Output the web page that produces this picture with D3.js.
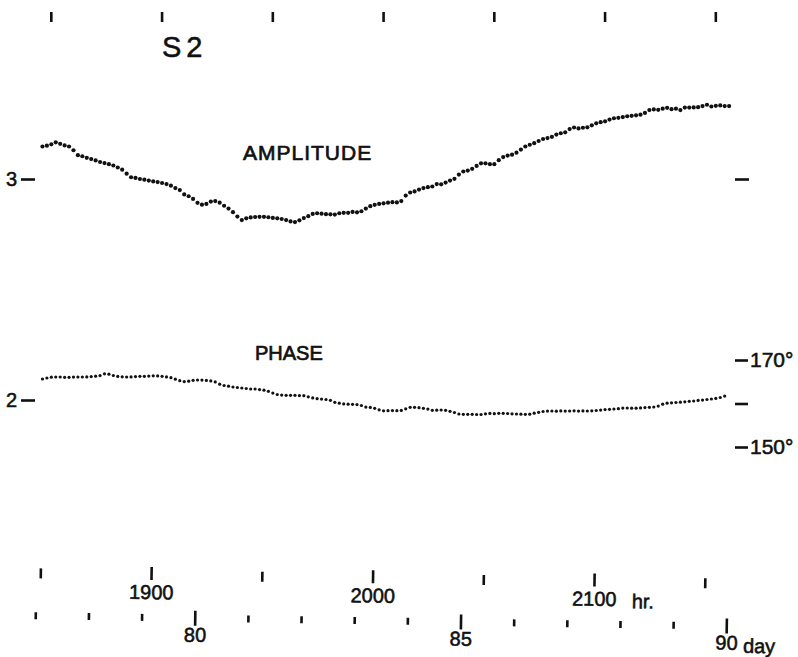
<html>
<head>
<meta charset="utf-8">
<title>S2</title>
<style>
  body { margin: 0; background: #fff; }
  text { font-family: "Liberation Sans", Arial, sans-serif; fill: #111; stroke: #111; stroke-width: 0.55px; }
  .tick line { stroke: #111; stroke-width: 2.6; }
  .domain { display: none; }
</style>
</head>
<body>
<script src="https://d3js.org/d3.v7.min.js"></script>
<script>

var width = 798, height = 657;

// readings every 2 hr, starting at hour 1851
var START_HR = 1851, STEP_HR = 2;

var amplitude = [
  3.147,3.151,3.157,3.166,3.159,3.152,3.147,3.130,3.108,3.103,
  3.096,3.090,3.084,3.077,3.072,3.067,3.061,3.052,3.042,3.024,
  3.008,3.005,3.000,2.997,2.993,2.989,2.986,2.982,2.977,2.970,
  2.959,2.950,2.930,2.922,2.910,2.892,2.884,2.887,2.898,2.900,
  2.893,2.879,2.866,2.850,2.830,2.814,2.822,2.826,2.828,2.829,
  2.829,2.827,2.824,2.822,2.819,2.814,2.808,2.805,2.813,2.823,
  2.832,2.842,2.845,2.843,2.841,2.840,2.839,2.845,2.847,2.847,
  2.851,2.849,2.854,2.866,2.877,2.883,2.887,2.890,2.893,2.895,
  2.894,2.900,2.925,2.939,2.944,2.952,2.959,2.963,2.966,2.977,
  2.976,2.984,2.993,3.001,3.020,3.034,3.038,3.046,3.059,3.071,
  3.071,3.067,3.067,3.085,3.099,3.106,3.110,3.119,3.133,3.147,
  3.155,3.162,3.172,3.181,3.185,3.191,3.201,3.207,3.211,3.226,
  3.233,3.229,3.232,3.234,3.243,3.252,3.257,3.261,3.269,3.275,
  3.277,3.280,3.284,3.286,3.288,3.291,3.299,3.312,3.315,3.313,
  3.318,3.322,3.316,3.318,3.312,3.323,3.323,3.324,3.325,3.330,
  3.336,3.328,3.331,3.333,3.330,3.330
];

var phase = [
  165.63,165.86,166.05,166.09,166.09,166.02,166.02,166.07,166.09,166.09,
  166.11,166.18,166.28,166.41,166.83,166.74,166.44,166.23,166.14,166.09,
  166.11,166.18,166.25,166.25,166.30,166.37,166.35,166.25,166.11,165.93,
  165.59,165.24,165.03,165.13,165.33,165.40,165.38,165.31,165.20,164.97,
  164.44,164.14,163.98,163.79,163.68,163.56,163.45,163.33,163.33,163.20,
  163.06,162.80,162.39,162.07,161.93,161.89,161.89,161.89,161.82,161.79,
  161.54,161.29,161.10,161.01,160.92,160.74,160.28,160.07,159.91,159.84,
  159.82,159.75,159.54,159.17,159.10,158.90,158.55,158.32,158.34,158.37,
  158.34,158.41,158.78,159.13,159.13,159.03,158.90,158.71,158.44,158.46,
  158.51,158.44,158.21,157.93,157.59,157.52,157.52,157.52,157.47,157.47,
  157.63,157.72,157.66,157.75,157.75,157.70,157.63,157.59,157.54,157.52,
  157.54,157.77,157.98,158.16,158.25,158.28,158.23,158.30,158.26,158.28,
  158.32,158.26,158.30,158.28,158.32,158.39,158.48,158.60,158.67,158.74,
  158.80,158.94,158.97,158.92,158.92,158.99,159.06,159.13,159.20,159.40,
  159.84,160.07,160.16,160.23,160.30,160.39,160.51,160.57,160.71,160.78,
  160.92,161.03,161.17,161.38,161.70
];

var topTicks = [1855, 1905, 1955, 2005, 2055, 2105, 2155];
var hrTicks = [1850, 1900, 1950, 2000, 2050, 2100, 2150];
var hrLabels = [1900, 2000, 2100];
var dayTicks = [77, 78, 79, 80, 81, 82, 83, 84, 85, 86, 87, 88, 89, 90];
var dayLabels = [80, 85, 90];
var ampTicks = [2, 3];
var phaseTicks = [170, 160, 150];
var phaseLabels = [170, 150];

var x = d3.scaleLinear().domain([1900, 2100]).range([151, 594]);
var yAmp = d3.scaleLinear().domain([2, 3]).range([400, 179]);
var yPh = d3.scaleLinear().domain([150, 170]).range([447, 360]);

var svg = d3.select("body").append("svg").attr("width", width).attr("height", height);

// top tick row
svg.append("g").selectAll("line")
  .data(topTicks)
  .enter()
  .append("line")
  .attr("x1", function(d) { return x(d); })
  .attr("x2", function(d) { return x(d); })
  .attr("y1", 12)
  .attr("y2", 22)
  .style("stroke", "#111")
  .style("stroke-width", 2.6);

svg.append("text").attr("x", 162).attr("y", 57)
  .style("font-size", "29px").style("letter-spacing", "5px")
  .text("S2");

// left amplitude axis
var gl = svg.append("g")
  .attr("transform", "translate(35,0)")
  .call(d3.axisLeft(yAmp).tickValues(ampTicks).tickSize(14).tickPadding(4)
    .tickFormat(d3.format("d")));
gl.selectAll("text").style("font-size", "20px");

// right axes
svg.append("g")
  .attr("transform", "translate(735,0)")
  .call(d3.axisRight(yAmp).tickValues([3]).tickSize(14).tickFormat(""));

var gr = svg.append("g")
  .attr("transform", "translate(735,0)")
  .call(d3.axisRight(yPh).tickValues(phaseTicks).tickSize(13).tickPadding(2)
    .tickFormat(function(d) { return phaseLabels.indexOf(d) >= 0 ? d + "\u00b0" : ""; }));
gr.selectAll("text").style("font-size", "21px");

// series
svg.append("g").selectAll("circle")
  .data(amplitude)
  .enter()
  .append("circle")
  .attr("cx", function(d, i) { return x(START_HR + STEP_HR * i); })
  .attr("cy", function(d) { return yAmp(d); })
  .attr("r", 2.1)
  .style("fill", "#111");

svg.append("g").selectAll("circle")
  .data(phase)
  .enter()
  .append("circle")
  .attr("cx", function(d, i) { return x(START_HR + STEP_HR * i); })
  .attr("cy", function(d) { return yPh(d); })
  .attr("r", 1.6)
  .style("fill", "#111");

svg.append("text").attr("x", 243).attr("y", 160)
  .style("font-size", "21px").style("stroke-width", 0.7)
  .style("letter-spacing", "1px")
  .text("AMPLITUDE");

svg.append("text").attr("x", 255).attr("y", 360)
  .style("font-size", "20px").style("stroke-width", 0.7)
  .text("PHASE");

// bottom time axes (the sheet is slightly skewed)
var gb = svg.append("g").attr("transform", "rotate(0.85,151,580)");

var gh = gb.append("g")
  .attr("transform", "translate(0,567)")
  .call(d3.axisBottom(x).tickValues(hrTicks).tickSize(13).tickPadding(5)
    .tickFormat(function(d) { return hrLabels.indexOf(d) >= 0 ? d : ""; }));
gh.selectAll(".tick line")
  .attr("y1", function(d) { return hrLabels.indexOf(d) >= 0 ? 0 : 3; });
gh.selectAll("text").style("font-size", "20px");

gb.append("text").attr("x", x(2100) + 38).attr("y", 601)
  .style("font-size", "20px").text("hr.");

var gd = gb.append("g")
  .attr("transform", "translate(0,610)")
  .call(d3.axisBottom(x).tickValues(dayTicks.map(function(d) { return d * 24; }))
    .tickSize(15).tickPadding(2)
    .tickFormat(function(d) { return dayLabels.indexOf(d / 24) >= 0 ? d / 24 : ""; }));
gd.selectAll(".tick line")
  .attr("y1", function(d) { return dayLabels.indexOf(d / 24) >= 0 ? 0 : 4; })
  .attr("y2", function(d) { return dayLabels.indexOf(d / 24) >= 0 ? 15 : 11; });
gd.selectAll("text").style("font-size", "20px");

gb.append("text").attr("x", x(90 * 24) + 17).attr("y", 644)
  .style("font-size", "20px").text("day");

</script>
</body>
</html>
